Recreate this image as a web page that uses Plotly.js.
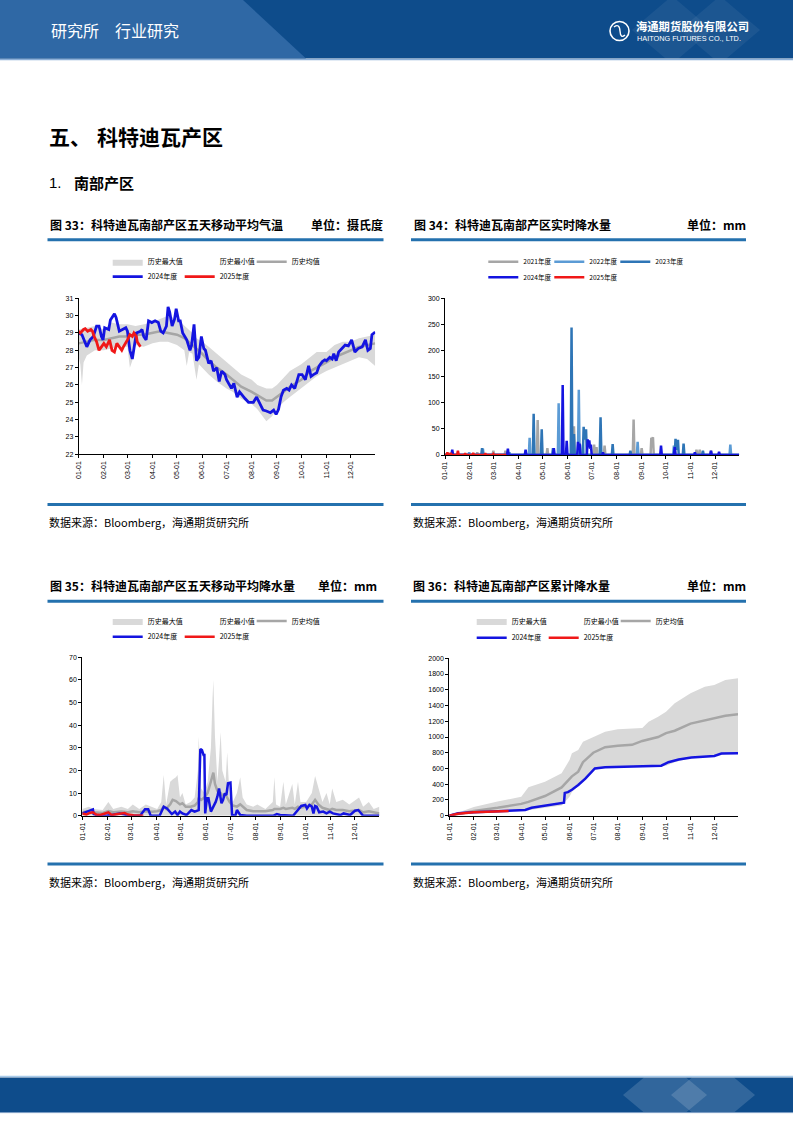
<!DOCTYPE html>
<html><head><meta charset="utf-8">
<script src="https://cdn.plot.ly/plotly-3.0.1.min.js"></script>
<style>html,body{margin:0;padding:0;background:#fff}#page{width:793px;height:1122px}</style>
</head><body><div id="page"></div>
<script>
// ---------------- DATA (day offsets from 01-01) ----------------
// Chart 33: 5-day moving average temperature (°C)
const t24Days = [0,4,10,14,18,22,25,28,30,32,37,39,44,46,50,54,58,60,63,66,69,71,76,78,80,83,86,90,94,98,101,104,108,110,112,115,118,120,123,125,128,133,137,139,142,145,148,151,154,156,160,163,166,170,173,176,178,180,182,186,188,191,195,198,201,205,209,212,215,219,221,224,227,231,236,240,243,246,249,252,256,259,262,266,271,275,279,283,286,289,293,296,300,303,305,309,312,314,317,320,324,328,332,336,340,344,349,353,356,359,361,365];
const t24 = [29.0,28.9,28.2,28.6,28.8,29.4,29.4,28.8,28.6,29.3,29.2,29.75,30.1,29.9,29.1,29.2,29.3,29.1,28.0,27.5,28.4,29.0,29.1,29.2,28.8,28.6,29.7,29.6,29.7,29.6,29.1,29.0,29.4,30.5,30.2,29.4,29.8,30.4,29.7,29.7,29.0,28.6,28.0,28.3,29.5,27.4,27.6,28.8,28.1,28.0,27.25,27.4,26.8,27.0,26.2,26.8,26.7,26.6,26.3,26.0,25.8,26.1,25.3,25.6,25.4,25.2,25.0,25.0,25.0,25.3,25.1,24.75,24.55,24.5,24.4,24.55,24.3,24.6,25.3,25.7,25.8,25.7,26.0,25.8,26.6,26.6,26.3,27.1,26.5,26.6,26.7,27.1,27.35,27.45,27.4,27.6,27.5,27.8,27.4,27.9,28.1,28.3,28.25,28.6,27.9,28.1,28.2,28.6,28.0,28.1,28.9,29.05];
const t25Days = [0,2,6,8,11,13,15,17,19,22,25,28,31,34,38,41,44,47,50,53,55,58,60,63,66,68,71,72,76];
const t25 = [29.1,29.0,29.2,29.25,29.1,29.15,29.2,29.1,28.8,28.5,28.0,28.2,28.4,28.2,28.6,28.0,27.9,28.4,28.2,28.0,28.2,28.4,28.6,28.9,28.8,29.0,28.8,28.5,28.2];
const b33Days = [0,10,20,31,40,50,60,70,80,91,100,110,121,130,140,145,152,160,170,182,190,200,213,220,231,238,244,252,260,274,285,293,305,315,325,335,345,355,365];
const mean33 = [28.4,28.5,28.6,28.6,28.7,28.8,28.8,28.9,28.9,29.0,29.1,29.0,28.9,28.7,28.3,28.1,27.8,27.4,27.0,26.6,26.3,25.9,25.6,25.4,25.1,25.1,25.3,25.6,25.9,26.3,26.8,27.0,27.3,27.6,27.8,28.0,28.2,28.3,28.4];
const max33 = [29.2,29.3,29.4,29.2,29.6,29.5,29.5,29.4,29.5,29.6,29.8,30.0,29.8,29.4,29.0,28.7,28.5,28.2,27.8,27.3,27.0,26.6,26.3,26.0,25.8,25.8,26.0,26.4,26.8,27.2,27.6,27.9,27.9,28.3,28.5,28.5,28.7,28.8,28.9];
const min33Days = [0,2,4,6,10,20,31,40,50,60,63,66,70,80,91,100,110,121,130,133,136,140,145,148,152,160,170,182,190,200,213,220,231,238,244,252,260,274,285,293,305,315,325,335,345,355,360,365];
const min33 = [27.6,27.2,26.0,27.3,27.7,28.0,28.0,28.1,28.2,28.2,27.0,27.4,28.3,28.2,28.4,28.5,28.5,28.3,28.0,27.1,27.9,27.8,26.3,27.2,27.0,26.6,26.2,25.8,25.6,25.2,24.9,24.6,23.9,24.2,24.6,25.0,25.3,25.8,26.2,26.5,26.8,27.0,27.2,27.4,27.6,27.5,27.3,27.1];

// Chart 34: real-time precipitation (mm)
const r21Days = [0,39,40,41,59,60,61,74,75,76,114,115,116,126,127,128,159,160,161,184,185,186,187,188,189,197,198,199,233,234,235,243,244,245,255,256,257,258,259,284,285,286,311,312,313,315,316,317,329,330,331,365];
const r21 = [0,0,5,0,0,8,0,0,8,0,0,67,0,0,13,0,0,55,0,0,20,0,0,15,0,0,18,0,0,68,0,0,13,0,0,33,30,34,0,0,12,0,0,10,0,0,10,0,0,8,0,0];
const r22Days = [0,29,30,31,46,47,48,79,80,81,104,105,106,140,141,142,165,166,167,170,171,172,238,239,240,283,284,285,353,354,355,365];
const r22 = [0,0,5,0,0,12,0,0,5,0,0,33,0,0,99,0,0,125,0,0,20,0,0,25,0,0,18,0,0,20,0,0];
const r23Days = [0,45,46,47,109,110,111,119,120,121,133,134,135,156,157,158,159,160,161,171,172,173,174,175,176,192,193,194,207,208,209,229,230,231,285,286,287,288,289,290,295,296,297,319,320,321,365];
const r23 = [0,0,13,0,0,79,0,0,49,0,0,13,0,0,244,0,0,40,0,0,54,30,35,49,0,0,72,0,0,21,0,0,8,0,0,31,10,15,29,0,0,22,0,0,8,0,0];
const r24Days = [0,8,9,10,77,78,79,99,100,101,134,135,136,145,146,147,150,151,152,164,165,166,167,168,176,177,178,179,180,181,182,195,196,197,267,268,269,284,285,286,309,310,311,329,330,331,339,340,341,365];
const r24 = [0,0,10,0,0,12,0,0,10,0,0,13,0,0,134,0,0,27,0,0,25,10,22,0,0,30,15,28,12,20,0,0,5,0,0,18,0,0,15,0,0,5,0,0,8,0,0,6,0,0];
const r25Days = [0,2,3,4,6,7,8,15,16,17,24,25,26,34,35,36,49,50,51,59,60,61,76];
const r25 = [0,0,5,0,0,4,0,0,8,0,0,3,0,0,4,0,0,3,0,0,2,0,0];

// Chart 35: 5-day moving average precipitation (mm)
const p24Days = [0,5,9,13,14,20,30,46,50,59,71,77,81,84,95,100,104,110,114,117,120,123,128,134,138,143,145,147,149,150,151,153,155,158,161,164,166,168,171,173,175,177,179,182,184,188,190,194,202,235,239,243,259,269,274,276,279,282,284,286,288,291,296,300,304,308,317,321,329,335,339,342,345,357,365];
const p24 = [1.0,1.8,2.5,2.8,0.7,0,0,1.0,0.7,0,0,2.8,2.8,0,0,4.0,3.2,0.7,1.8,0.3,1.8,1.0,0.3,2.5,1.8,2.5,29.5,29.0,26.8,26.8,1.0,7.7,7.7,1.8,4.0,6.2,8.5,12.0,5.5,7.0,9.9,9.1,14.3,14.6,0.3,0,2.5,0.3,0,0,0.7,0.3,0,4.3,4.7,3.2,4.7,4.0,1.0,4.3,4.0,1.5,1.8,1.0,1.8,1.0,0.3,1.0,0.3,2.2,2.5,1.0,0,0,0];
const p25Days = [0,5,9,13,17,22,28,32,36,42,48,52,56,63,71,75];
const p25 = [1.0,0.5,1.2,1.5,0.5,0.3,1.0,1.5,0.3,0.5,1.0,1.2,0.5,0.2,0.2,0];
const b35Days = [0,8,14,25,32,38,48,56,62,70,78,86,92,97,100,103,108,111,115,117,120,123,127,133,138,142,143,146,150,154,158,160,161,163,166,168,170,172,176,178,181,185,190,194,197,202,210,215,225,234,236,238,243,247,250,258,261,265,268,275,282,286,290,295,300,304,307,312,320,328,340,345,352,358,365];
const max35 = [3,4,3,2.5,6,3,4,3,5,3,5,4,3,6,18,5,15,16,17,18,8,10,5,6,8,20,35,12,10,15,30,52,60,35,15,25,37,20,15,28,8,6,10,17,8,5,4,5,3,6,17,5,4,15,5,14,5,15,6,6,10,17.5,12,6,10,5,12,6,7,5,8,4,6,3,4];
const mean35 = [1.5,2,1.5,1.2,2,1.5,1.8,1.5,2,1.5,2,1.8,2,2.5,4,3,5,7,6.5,6,5,5.5,4,4,4.5,6,8,7,8,10,15,18,19,14,11,10,10,9,9,8,6,4.5,4,5,4,2.5,2,2,2,2.5,3,3,3,3.5,3,3.5,3,4,3.5,4,5,7,5,3.5,3,2.5,3,2.5,2.5,2,2.5,1.5,2,1.5,1];
const min35Days = [0,365];
const min35 = [0,0];

// Chart 36: cumulative precipitation (mm)
const c24Days = [0,11,31,61,75,79,96,104,121,142,145,146,150,155,163,172,178,182,184,197,239,268,277,290,306,335,344,365];
const c24 = [0,30,45,55,60,70,72,100,125,160,165,290,300,330,390,470,540,590,600,615,625,635,680,715,740,760,790,795];
const c25Days = [0,11,31,45,61,75];
const c25 = [0,25,45,50,55,60];
const b36Days = [0,31,61,91,100,121,142,152,155,163,169,182,197,213,231,244,252,264,274,285,305,323,335,349,365];
const max36 = [0,110,180,240,360,432,538,708,792,835,940,1004,1068,1097,1105,1115,1195,1258,1322,1428,1555,1640,1660,1725,1745];
const mean36 = [0,60,100,150,175,250,360,470,500,560,680,800,870,890,900,950,970,1000,1050,1080,1170,1210,1240,1270,1290];
const min36 = [0,40,50,65,70,100,130,240,300,380,450,580,610,615,620,622,625,630,635,680,735,750,755,785,790];

// Labels
const seriesHist = ['历史最大值','历史最小值','历史均值'];
const seriesYears = ['2021年度','2022年度','2023年度','2024年度','2025年度'];
const titles = ['图 33：科特迪瓦南部产区五天移动平均气温','图 34：科特迪瓦南部产区实时降水量','图 35：科特迪瓦南部产区五天移动平均降水量','图 36：科特迪瓦南部产区累计降水量'];
const units = ['单位：摄氏度','单位：mm','单位：mm','单位：mm'];
const source = '数据来源：Bloomberg，海通期货研究所';

// ---------------- HELPERS ----------------
const W = 793, H = 1122;
const fx = p => p / W, fy = p => 1 - p / H;
const toDate = d => new Date(Date.UTC(2024,0,1) + d*864e5).toISOString().slice(0,10);
const X = a => a.map(toDate);
const CJK = 'Noto Sans CJK SC, sans-serif';
const LAT = 'Liberation Sans, Arial, sans-serif';
const C24 = '#1414E0', C25 = '#F01818', CMEAN = '#A6A6A6', CBAND = '#D9D9D9';
const RULE = '#2471AE', NAVY = '#0E4C8B';

function ln(days, vals, name, color, width, ax, legend, rank, extra) {
  return Object.assign({type:'scatter', mode:'lines', x:X(days), y:vals, name:name,
    line:{color:color, width:width}, xaxis:'x'+ax, yaxis:'y'+ax, legend:legend,
    legendrank:rank, hoverinfo:'skip'}, extra || {});
}
function histTraces(ax, lg, minD, minV, bD, maxV, meanV) {
  return [
    ln(minD, minV, seriesHist[1], 'rgba(0,0,0,0)', 0, ax, lg, 2),
    ln(bD, maxV, seriesHist[0], CBAND, 0, ax, lg, 1, {fill:'tonexty', fillcolor:CBAND}),
    ln(bD, meanV, seriesHist[2], CMEAN, 2.5, ax, lg, 3, {legendwidth:50})
  ];
}
const data = [].concat(
  histTraces('', 'legend', min33Days, min33, b33Days, max33, mean33),
  [ln(t24Days, t24, seriesYears[3], C24, 2.8, '', 'legend2', 1),
   ln(t25Days, t25, seriesYears[4], C25, 2.8, '', 'legend2', 2, {legendwidth:45})],
  [ln(r21Days, r21, seriesYears[0], '#A6A6A6', 2.5, '2', 'legend3', 1),
   ln(r22Days, r22, seriesYears[1], '#5B9BD5', 2.5, '2', 'legend3', 2),
   ln(r23Days, r23, seriesYears[2], '#2E75B6', 2.5, '2', 'legend3', 3, {legendwidth:45}),
   ln(r24Days, r24, seriesYears[3], C24, 2.5, '2', 'legend4', 1),
   ln(r25Days, r25, seriesYears[4], C25, 2.5, '2', 'legend4', 2, {legendwidth:45})],
  histTraces('3', 'legend5', min35Days, min35, b35Days, max35, mean35),
  [ln(p24Days, p24, seriesYears[3], C24, 2.5, '3', 'legend6', 1),
   ln(p25Days, p25, seriesYears[4], C25, 2.5, '3', 'legend6', 2, {legendwidth:45})],
  histTraces('4', 'legend7', b36Days, min36, b36Days, max36, mean36),
  [ln(c24Days, c24, seriesYears[3], C24, 2.5, '4', 'legend8', 1),
   ln(c25Days, c25, seriesYears[4], C25, 2.5, '4', 'legend8', 2, {legendwidth:45})]
);

const tickF = {family:LAT, size:7, color:'#000'};
function xa(l, r, anchor) {
  return {domain:[fx(l), fx(r)], anchor:anchor, type:'date', range:['2024-01-01','2024-12-31'],
    tick0:'2024-01-01', dtick:'M1', tickformat:'%m-%d', tickangle:-90, ticks:'outside', ticklen:3,
    tickcolor:'#000', tickwidth:1, showline:true, linecolor:'#000', linewidth:1, showgrid:false,
    zeroline:false, tickfont:tickF, fixedrange:true};
}
function ya(t, b, anchor, range, dtick) {
  return {domain:[fy(b), fy(t)], anchor:anchor, range:range, dtick:dtick, ticks:'outside', ticklen:3,
    tickcolor:'#000', tickwidth:1, showline:true, linecolor:'#000', linewidth:1, showgrid:false,
    zeroline:false, tickfont:tickF, fixedrange:true};
}
function lg(x, y, ew, size) {
  return {x:fx(x), y:fy(y), xref:'paper', yref:'paper', xanchor:'left', yanchor:'middle',
    orientation:'h', traceorder:'normal', entrywidth:ew, entrywidthmode:'pixels', itemwidth:30, tracegroupgap:0,
    font:{family:CJK, size:size, color:'#000'}, bgcolor:'rgba(0,0,0,0)', borderwidth:0,
    itemclick:false, itemdoubleclick:false};
}
function ann(text, x, y, size, o) {
  return Object.assign({text:text, x:fx(x), y:fy(y), xref:'paper', yref:'paper', showarrow:false,
    xanchor:'left', yanchor:'middle', font:{family:CJK, size:size, color:'#000'}}, o || {});
}
function rect(x0, y0, x1, y1, c) {
  return {type:'rect', xref:'paper', yref:'paper', x0:fx(x0), x1:fx(x1), y0:fy(y1), y1:fy(y0),
    fillcolor:c, line:{width:0}, layer:'below'};
}
function hl(x0, x1, y, c, w) {
  return {type:'line', xref:'paper', yref:'paper', x0:fx(x0), x1:fx(x1), y0:fy(y), y1:fy(y),
    line:{color:c, width:w}};
}
function poly(pts, c) {
  return {type:'path', xref:'paper', yref:'paper',
    path:'M' + pts.map(p => fx(p[0]) + ',' + fy(p[1])).join('L') + 'Z',
    fillcolor:c, line:{width:0}, layer:'below'};
}
function hexa(cx, cy, hw, hh, top, bot, c) {
  const wAt = y => hw * (1 - Math.abs(y - cy) / hh);
  return poly([[cx-hw,cy],[cx-wAt(top),top],[cx+wAt(top),top],[cx+hw,cy],[cx+wAt(bot),bot],[cx-wAt(bot),bot]], c);
}

const shapes = [
  rect(0, 0, 793, 58.5, NAVY),
  poly([[0,0],[243,0],[306,58.5],[0,58.5]], '#2F68A5'),
  hexa(672, 30, 40, 34, 0, 58.5, 'rgba(255,255,255,0.06)'),
  hexa(720, 30, 40, 34, 0, 58.5, 'rgba(255,255,255,0.06)'),
  hl(0, 793, 59.6, '#8DB0D8', 1.4),
  {type:'circle', xref:'paper', yref:'paper', x0:fx(610), x1:fx(629), y0:fy(40.5), y1:fy(21.5),
   line:{color:'#fff', width:1.6}},
  {type:'path', xref:'paper', yref:'paper',
   path:'M'+fx(614)+','+fy(27)+'Q'+fx(619.5)+','+fy(23)+' '+fx(620)+','+fy(31)+'T'+fx(625)+','+fy(35),
   line:{color:'#fff', width:1.4}},
  hl(47.5, 383.5, 239.7, RULE, 3), hl(411, 746, 239.7, RULE, 3),
  hl(47.5, 383.5, 504.5, RULE, 3), hl(411, 746, 504.5, RULE, 3),
  hl(47.5, 383.5, 601.3, RULE, 3), hl(411, 746, 601.3, RULE, 3),
  hl(47.5, 383.5, 864, RULE, 3), hl(411, 746, 864, RULE, 3),
  hl(0, 793, 1076.4, '#A9CBEA', 1.3),
  rect(0, 1077.5, 793, 1112, NAVY),
  hexa(665, 1095, 42, 35, 1077.5, 1112, 'rgba(255,255,255,0.15)'),
  hexa(713, 1095, 42, 35, 1077.5, 1112, 'rgba(255,255,255,0.15)'),
  hl(0, 793, 1112.6, '#6F93BE', 1)
];

const annotations = [
  ann('研究所', 49, 30, 16, {font:{family:CJK, size:16, color:'#fff'}}),
  ann('行业研究', 113, 30, 16, {font:{family:CJK, size:16, color:'#fff'}}),
  ann('<b>海通期货股份有限公司</b>', 634, 26, 11.3, {font:{family:CJK, size:11.3, color:'#fff'}}),
  ann('HAITONG FUTURES CO., LTD.', 635, 38.5, 7.3, {font:{family:LAT, size:7.3, color:'#fff'}}),
  ann('<b>五、</b>', 47, 136, 21),
  ann('<b>科特迪瓦产区</b>', 95, 136, 21),
  ann('1.', 47, 182.5, 15, {font:{family:LAT, size:15, color:'#000'}}),
  ann('<b>南部产区</b>', 71.5, 182.5, 15),
  ann('<b>' + titles[0] + '</b>', 47.5, 224.5, 12),
  ann('<b>' + units[0] + '</b>', 384.5, 224.5, 12, {xanchor:'right'}),
  ann('<b>' + titles[1] + '</b>', 411.5, 224.5, 12),
  ann('<b>' + units[1] + '</b>', 747.5, 224.5, 12, {xanchor:'right'}),
  ann('<b>' + titles[2] + '</b>', 48, 585, 12),
  ann('<b>' + units[2] + '</b>', 378.5, 585, 12, {xanchor:'right'}),
  ann('<b>' + titles[3] + '</b>', 411, 585, 12),
  ann('<b>' + units[3] + '</b>', 747.5, 585, 12, {xanchor:'right'}),
  ann(source, 46.5, 521.7, 11),
  ann(source, 410.5, 521.7, 11),
  ann(source, 46.5, 882, 11),
  ann(source, 410.5, 882, 11)
];

const layout = {
  width:W, height:H, margin:{l:0, r:0, t:0, b:0, autoexpand:false},
  paper_bgcolor:'#fff', plot_bgcolor:'rgba(0,0,0,0)', showlegend:true, hovermode:false,
  xaxis:xa(78.7, 375.2, 'y'),   yaxis:ya(298.3, 454.3, 'x', [22,31], 1),
  xaxis2:xa(445, 739.2, 'y2'),  yaxis2:ya(298.3, 455, 'x2', [0,300], 50),
  xaxis3:xa(82.3, 379.4, 'y3'), yaxis3:ya(657.3, 815.7, 'x3', [0,70], 10),
  xaxis4:xa(449.3, 738, 'y4'),  yaxis4:ya(658.3, 815.7, 'x4', [0,2000], 200),
  legend:lg(107.7, 261.7, 27, 7), legend2:lg(107.7, 276.7, 27, 7),
  legend3:lg(483.3, 261.7, 21, 6.6), legend4:lg(483.3, 277.3, 21, 6.6),
  legend5:lg(107.7, 621, 27, 7), legend6:lg(107.7, 636.7, 27, 7),
  legend7:lg(471.7, 621, 27, 7), legend8:lg(471.7, 637.7, 27, 7),
  shapes:shapes, annotations:annotations
};

Plotly.newPlot('page', data, layout, {staticPlot:true, displayModeBar:false});
</script>
</body></html>
